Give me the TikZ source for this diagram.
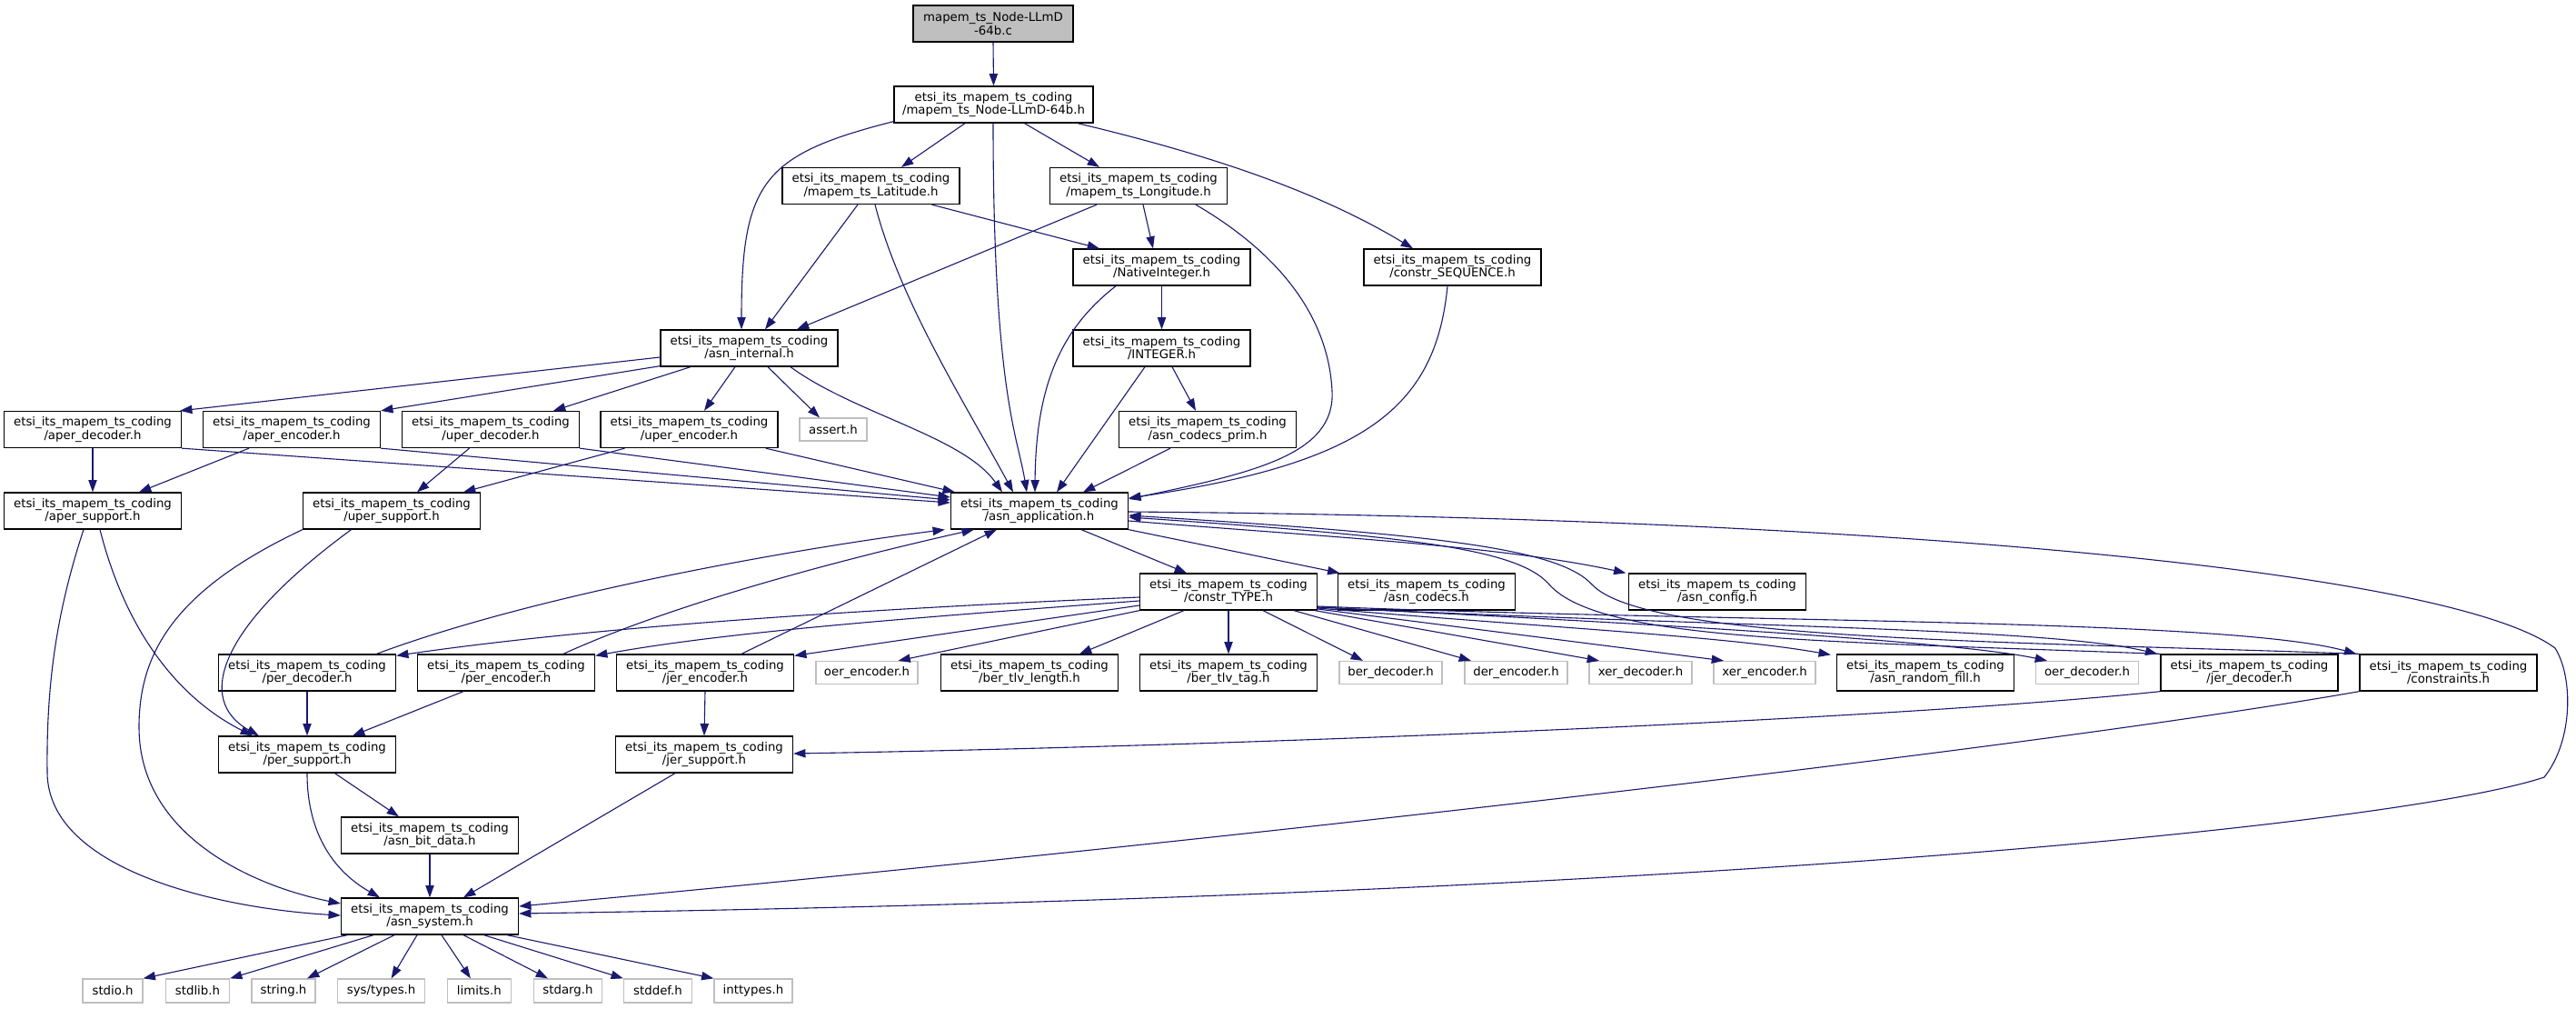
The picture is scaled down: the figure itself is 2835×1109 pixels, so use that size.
\documentclass[tikz,border=0pt]{standalone}
\usepackage{fontspec}
\setmainfont{DejaVu Sans}
\usetikzlibrary{arrows.meta,calc}
\definecolor{edgec}{HTML}{191970}
\definecolor{greyb}{HTML}{BFBFBF}
\begin{document}
\begin{tikzpicture}[x=1pt,y=-1pt,
  box/.style={draw=black, line width=1.3pt, fill=white, inner sep=0pt, minimum height=40pt, minimum width=195pt, align=center, font=\fontsize{13.3}{14.5}\selectfont},
  sysbox/.style={box, draw=greyb, minimum height=25pt},
  libbox/.style={box, draw=greyb, minimum height=26pt},
  edge/.style={draw=edgec, line width=1.1pt, -{Triangle[length=13.3pt,width=9.3pt]}}]
\useasboundingbox[fill=white] (0,0) rectangle (2835,1109);
% row 0-4
\node[box, fill=greyb, minimum width=176pt] (C) at (1093,26) {mapem\_ts\_Node-LLmD\\-64b.c};
\node[box, minimum width=219pt] (H) at (1093.5,115) {etsi\_its\_mapem\_ts\_coding\\/mapem\_ts\_Node-LLmD-64b.h};
\node[box] (lat) at (958.5,204.5) {etsi\_its\_mapem\_ts\_coding\\/mapem\_ts\_Latitude.h};
\node[box] (lon) at (1253,204.5) {etsi\_its\_mapem\_ts\_coding\\/mapem\_ts\_Longitude.h};
\node[box] (nat) at (1278.5,294) {etsi\_its\_mapem\_ts\_coding\\/NativeInteger.h};
\node[box] (seq) at (1598.5,294) {etsi\_its\_mapem\_ts\_coding\\/constr\_SEQUENCE.h};
\node[box] (aint) at (824.5,383) {etsi\_its\_mapem\_ts\_coding\\/asn\_internal.h};
\node[box] (integer) at (1278.5,383) {etsi\_its\_mapem\_ts\_coding\\/INTEGER.h};
% row 5
\node[box] (apd) at (102,472.5) {etsi\_its\_mapem\_ts\_coding\\/aper\_decoder.h};
\node[box] (ape) at (321,472.5) {etsi\_its\_mapem\_ts\_coding\\/aper\_encoder.h};
\node[box] (upd) at (540,472.5) {etsi\_its\_mapem\_ts\_coding\\/uper\_decoder.h};
\node[box] (upe) at (758.5,472.5) {etsi\_its\_mapem\_ts\_coding\\/uper\_encoder.h};
\node[sysbox, minimum width=74pt] (assert) at (917,472.5) {assert.h};
\node[box] (prim) at (1329,472.5) {etsi\_its\_mapem\_ts\_coding\\/asn\_codecs\_prim.h};
% row 6
\node[box] (aps) at (102,562) {etsi\_its\_mapem\_ts\_coding\\/aper\_support.h};
\node[box] (ups) at (431,562) {etsi\_its\_mapem\_ts\_coding\\/uper\_support.h};
\node[box] (app) at (1144,562) {etsi\_its\_mapem\_ts\_coding\\/asn\_application.h};
% row 7
\node[box] (ctype) at (1352,651) {etsi\_its\_mapem\_ts\_coding\\/constr\_TYPE.h};
\node[box] (codecs) at (1570,651) {etsi\_its\_mapem\_ts\_coding\\/asn\_codecs.h};
\node[box] (config) at (1890,651) {etsi\_its\_mapem\_ts\_coding\\/asn\_config.h};
% row 8
\node[box] (pd) at (338,740) {etsi\_its\_mapem\_ts\_coding\\/per\_decoder.h};
\node[box] (pe) at (557,740) {etsi\_its\_mapem\_ts\_coding\\/per\_encoder.h};
\node[box] (je) at (776,740) {etsi\_its\_mapem\_ts\_coding\\/jer\_encoder.h};
\node[sysbox, minimum width=112pt] (oe) at (954,740) {oer\_encoder.h};
\node[box] (btl) at (1133,740) {etsi\_its\_mapem\_ts\_coding\\/ber\_tlv\_length.h};
\node[box] (btt) at (1352,740) {etsi\_its\_mapem\_ts\_coding\\/ber\_tlv\_tag.h};
\node[sysbox, minimum width=113pt] (bd) at (1530.5,740) {ber\_decoder.h};
\node[sysbox, minimum width=113pt] (de) at (1668.5,740) {der\_encoder.h};
\node[sysbox, minimum width=113pt] (xd) at (1805.5,740) {xer\_decoder.h};
\node[sysbox, minimum width=112pt] (xe) at (1942,740) {xer\_encoder.h};
\node[box] (rf) at (2119,740) {etsi\_its\_mapem\_ts\_coding\\/asn\_random\_fill.h};
\node[sysbox, minimum width=113pt] (od) at (2297,740) {oer\_decoder.h};
\node[box] (jd) at (2475.5,740) {etsi\_its\_mapem\_ts\_coding\\/jer\_decoder.h};
\node[box] (cons) at (2694.5,740) {etsi\_its\_mapem\_ts\_coding\\/constraints.h};
% rows 9-11
\node[box] (ps) at (338,830) {etsi\_its\_mapem\_ts\_coding\\/per\_support.h};
\node[box] (js) at (775,830) {etsi\_its\_mapem\_ts\_coding\\/jer\_support.h};
\node[box] (bit) at (473,919) {etsi\_its\_mapem\_ts\_coding\\/asn\_bit\_data.h};
\node[box] (sys) at (473,1008) {etsi\_its\_mapem\_ts\_coding\\/asn\_system.h};
% row 12
\node[libbox, minimum width=66pt] (stdio) at (124,1090) {stdio.h};
\node[libbox, minimum width=70pt] (stdlib) at (217.5,1090) {stdlib.h};
\node[libbox, minimum width=70pt] (string) at (312,1090) {string.h};
\node[libbox, minimum width=96pt] (systypes) at (419.6,1090) {sys/types.h};
\node[libbox, minimum width=70pt] (limits) at (527.4,1090) {limits.h};
\node[libbox, minimum width=75pt] (stdarg) at (625,1090) {stdarg.h};
\node[libbox, minimum width=75pt] (stddef) at (724,1090) {stddef.h};
\node[libbox, minimum width=86pt] (inttypes) at (829,1090) {inttypes.h};
% edges
\draw[edge] (C.south) -- (H.north);
\draw[edge] ($(H.south)+(-31.5,0)$) -- ($(lat.north)+(33.5,0)$);
\draw[edge] ($(H.south)+(34,0)$) -- ($(lon.north)+(-43,0)$);
\draw[edge] ($(H.south west)+(0,-2)$) .. controls (840,170) and (816,200) .. ($(aint.north)+(-8.5,0)$);
\draw[edge] ($(H.south)+(-0.5,0)$) .. controls (1093,430) and (1120,480) .. ($(app.north)+(-14,0)$);
\draw[edge] ($(H.south)+(92.5,0)$) .. controls (1330,170) and (1450,210) .. ($(seq.north)+(-43.5,0)$);
\draw[edge] ($(lat.south)+(-14.5,0)$) -- ($(aint.north)+(17.5,0)$);
\draw[edge] ($(lat.south)+(67,0)$) -- ($(nat.north)+(-68.5,0)$);
\draw[edge] ($(lat.south)+(4.5,0)$) .. controls (990,330) and (1060,440) .. ($(app.north)+(-29,0)$);
\draw[edge] ($(lon.south)+(5,0)$) -- ($(nat.north)+(-9.5,0)$);
\draw[edge] ($(lon.south)+(-46,0)$) -- ($(aint.north)+(52.5,0)$);
\draw[edge] ($(lon.south)+(63,0)$) .. controls (1410,280) and (1462,350) .. (1466,430) .. controls (1470,500) and (1380,520) .. ($(app.east)+(0,-13)$);
\draw[edge] (nat.south) -- (integer.north);
\draw[edge] ($(nat.south)+(-50.5,0)$) .. controls (1170,360) and (1140,420) .. ($(app.north)+(-5,0)$);
\draw[edge] ($(seq.south)+(-5.5,0)$) .. controls (1580,450) and (1500,510) .. ($(app.east)+(0,-14)$);
\draw[edge] ($(integer.south)+(11.5,0)$) -- ($(prim.north)+(-13,0)$);
\draw[edge] ($(integer.south)+(-18.5,0)$) -- ($(app.north)+(19,0)$);
\draw[edge] ($(prim.south)+(-41,0)$) -- ($(app.north)+(48,0)$);
\draw[edge] ($(aint.west)+(0,10)$) -- ($(apd.north east)+(-2,0)$);
\draw[edge] ($(aint.south west)+(0,-1)$) -- (ape.north east);
\draw[edge] ($(aint.south)+(-64.5,0)$) -- ($(upd.north)+(69,0)$);
\draw[edge] ($(aint.south)+(-15.5,0)$) -- ($(upe.north)+(16.5,0)$);
\draw[edge] ($(aint.south)+(20.5,0)$) -- ($(assert.north)+(-15,0)$);
\draw[edge] ($(aint.south)+(45.5,0)$) .. controls (940,455) and (1060,480) .. ($(app.north)+(-41,0)$);
\draw[edge] (apd.south) -- (aps.north);
\draw[edge] (apd.south east) -- ($(app.west)+(0,-9)$);
\draw[edge] ($(ape.south)+(-47,0)$) -- ($(aps.north)+(51,0)$);
\draw[edge] (ape.south east) -- ($(app.west)+(0,-12)$);
\draw[edge] ($(upd.south)+(-23.5,0)$) -- ($(ups.north)+(28,0)$);
\draw[edge] (upd.south east) -- ($(app.west)+(0,-15)$);
\draw[edge] ($(upe.south)+(-71,0)$) -- ($(ups.north)+(79,0)$);
\draw[edge] ($(upe.south east)+(-14,0)$) -- ($(app.north west)+(5,0)$);
\draw[edge] ($(aps.south)+(8,0)$) .. controls (140,700) and (200,770) .. ($(ps.north west)+(38,0)$);
\draw[edge] ($(aps.south)+(-10,0)$) .. controls (60,680) and (51,760) .. (52,850) .. controls (53,960) and (250,1000) .. ($(sys.west)+(0,-1)$);
\draw[edge] ($(ups.south)+(-44.5,0)$) .. controls (240,690) and (215,770) .. ($(ps.north west)+(45,0)$);
\draw[edge] (ups.south west) .. controls (190,650) and (153,720) .. (153,800) .. controls (153,920) and (280,975) .. ($(sys.west)+(0,-14)$);
\draw[edge] ($(app.south)+(46,0)$) -- ($(ctype.north)+(-46,0)$);
\draw[edge] (app.south east) -- ($(codecs.north west)+(2.5,0)$);
\draw[edge] ($(app.east)+(0,11)$) .. controls (1450,590) and (1650,600) .. ($(config.north west)+(-2.5,0)$);
\draw[edge] ($(app.east)+(0,1)$) .. controls (2100,570) and (2700,630) .. (2812,713) .. controls (2832,745) and (2832,815) .. (2800,855) .. controls (2650,905) and (1900,985) .. ($(sys.east)+(0,-3)$);
\draw[edge] ($(ctype.west)+(0,6)$) .. controls (950,670) and (650,690) .. ($(pd.north east)+(0,2)$);
\draw[edge] ($(ctype.west)+(0,10)$) .. controls (1000,680) and (800,695) .. ($(pe.north east)+(0,2)$);
\draw[edge] ($(ctype.west)+(0,15)$) -- ($(je.north east)+(0,2)$);
\draw[edge] (ctype.south west) -- ($(oe.north)+(34.5,0)$);
\draw[edge] ($(ctype.south)+(-49,0)$) -- ($(btl.north)+(55,0)$);
\draw[edge] (ctype.south) -- (btt.north);
\draw[edge] ($(ctype.south)+(38,0)$) -- ($(bd.north)+(-30.5,0)$);
\draw[edge] ($(ctype.south)+(72,0)$) -- ($(de.north)+(-49.5,0)$);
\draw[edge] ($(ctype.south east)+(-3,0)$) -- ($(xd.north)+(-45.5,0)$);
\draw[edge] ($(ctype.east)+(0,19)$) -- ($(xe.north)+(-45,0)$);
\draw[edge] ($(ctype.east)+(0,18)$) .. controls (1700,690) and (1900,700) .. ($(rf.north west)+(-6,1)$);
\draw[edge] ($(ctype.east)+(0,17)$) .. controls (1800,685) and (2150,705) .. ($(od.north)+(-44,0)$);
\draw[edge] ($(ctype.east)+(0,17)$) .. controls (1900,690) and (2250,690) .. ($(jd.north west)+(-3,0)$);
\draw[edge] ($(ctype.east)+(0,16)$) .. controls (1900,685) and (2450,680) .. ($(cons.north west)+(-3,0)$);
\draw[edge] ($(pd.north)+(76.5,0)$) .. controls (600,650) and (900,600) .. ($(app.south west)+(-6,0)$);
\draw[edge] (pd.south) -- (ps.north);
\draw[edge] ($(pe.north)+(63,0)$) .. controls (750,660) and (950,610) .. ($(app.south west)+(26,0)$);
\draw[edge] ($(pe.south)+(-47,0)$) -- ($(ps.north)+(50,0)$);
\draw[edge] ($(je.north)+(40,0)$) -- ($(app.south west)+(51,0)$);
\draw[edge] (je.south) -- (js.north);
\draw[edge] (jd.north west) .. controls (2000,705) and (1760,705) .. (1705,643) .. controls (1670,603) and (1550,590) .. ($(app.east)+(0,7)$);
\draw[edge] (jd.south west) .. controls (2100,790) and (1400,820) .. ($(js.east)+(0,-1)$);
\draw[edge] (cons.north west) .. controls (2200,705) and (1810,705) .. (1752,643) .. controls (1715,603) and (1580,588) .. ($(app.east)+(0,5)$);
\draw[edge] (cons.south west) .. controls (2200,830) and (1200,940) .. ($(sys.east)+(0,-11)$);
\draw[edge] ($(ps.south)+(30.5,0)$) -- ($(bit.north)+(-34,0)$);
\draw[edge] (ps.south) .. controls (338,920) and (370,960) .. ($(sys.north)+(-55,0)$);
\draw[edge] ($(js.south)+(-32,0)$) -- ($(sys.north)+(37,0)$);
\draw[edge] (bit.south) -- (sys.north);
\draw[edge] ($(sys.south)+(-90.5,0)$) -- (stdio.north east);
\draw[edge] ($(sys.south)+(-62,0)$) -- (stdlib.north east);
\draw[edge] ($(sys.south)+(-39,0)$) -- ($(string.north)+(26,0)$);
\draw[edge] ($(sys.south)+(-14,0)$) -- ($(systypes.north)+(11,0)$);
\draw[edge] ($(sys.south)+(13,0)$) -- ($(limits.north)+(-9.5,0)$);
\draw[edge] ($(sys.south)+(37,0)$) -- ($(stdarg.north)+(-22,0)$);
\draw[edge] ($(sys.south)+(59.5,0)$) -- (stddef.north west);
\draw[edge] ($(sys.south)+(85,0)$) -- (inttypes.north west);
\end{tikzpicture}
\end{document}
